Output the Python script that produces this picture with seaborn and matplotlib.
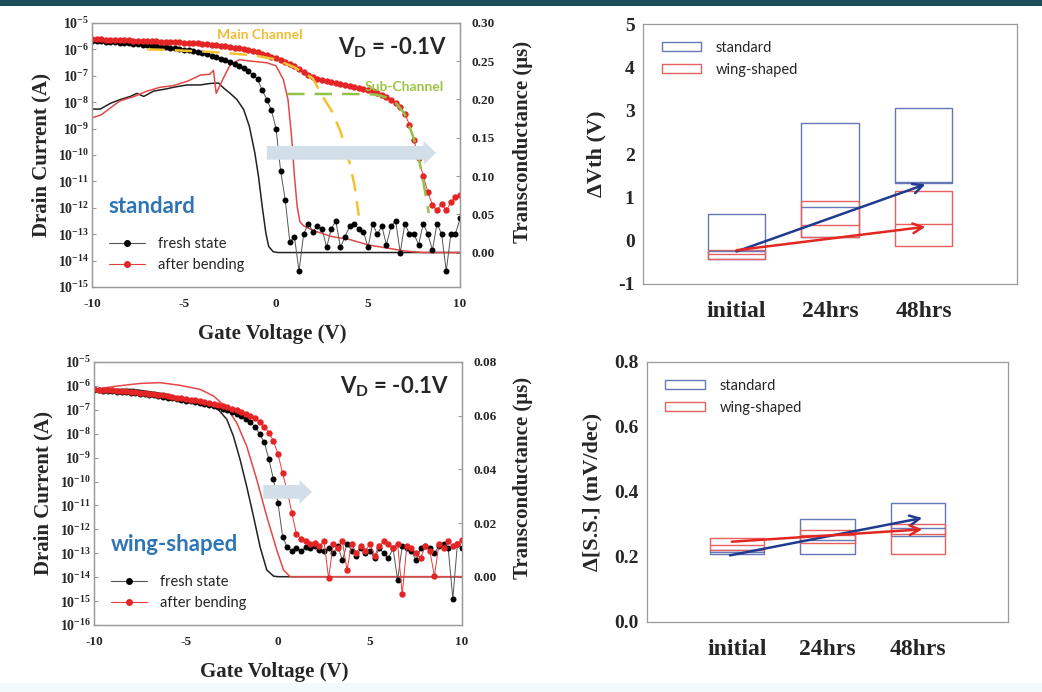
import numpy as np
import pandas as pd
import matplotlib
matplotlib.use("Agg")
import matplotlib.pyplot as plt
from matplotlib.lines import Line2D
from matplotlib.patches import Patch, Rectangle
from matplotlib.ticker import NullLocator
import seaborn as sns

# ---------------------------------------------------
# Data
# ---------------------------------------------------
# gate voltage sweep of the dotted Id curves (0.25 V steps)
vg = np.linspace(-10, 10, 81)

# log10 of drain current (A), standard device
std_fresh_log = [
    -5.69, -5.70, -5.70, -5.71, -5.72, -5.73, -5.74, -5.75, -5.77, -5.78,
    -5.80, -5.82, -5.84, -5.86, -5.88, -5.90, -5.92, -5.94, -5.96, -5.98,
    -6.01, -6.04, -6.07, -6.11, -6.15, -6.19, -6.24, -6.29, -6.35, -6.41,
    -6.48, -6.55, -6.63, -6.72, -6.83, -6.96, -7.13, -7.55, -7.90, -8.30,
    -9.0, -10.6, -11.7, -13.3, -13.1, -14.4, -13.0, -12.6, -12.9, -12.7,
    -12.8, -13.5, -12.8, -12.5, -13.5, -13.1, -12.7, -12.6, -12.8, -12.9,
    -13.5, -12.6, -13.0, -12.7, -13.4, -12.7, -12.5, -13.7, -12.6, -13.0,
    -13.0, -13.4, -12.6, -13.0, -13.6, -12.6, -13.0, -14.4, -13.0, -13.0,
    -12.4,
]
std_bent_log = [
    -5.61, -5.62, -5.62, -5.63, -5.64, -5.64, -5.65, -5.65, -5.66, -5.67,
    -5.67, -5.68, -5.69, -5.69, -5.70, -5.71, -5.71, -5.72, -5.72, -5.73,
    -5.74, -5.75, -5.76, -5.77, -5.79, -5.80, -5.82, -5.84, -5.86, -5.88,
    -5.91, -5.93, -5.95, -5.99, -6.03, -6.07, -6.11, -6.16, -6.21, -6.27,
    -6.33, -6.41, -6.49, -6.56, -6.64, -6.76, -6.87, -6.97, -7.05, -7.12,
    -7.17, -7.21, -7.25, -7.28, -7.31, -7.34, -7.37, -7.41, -7.45, -7.49,
    -7.53, -7.59, -7.65, -7.72, -7.80, -7.90, -8.02, -8.20, -8.45, -8.85,
    -9.45, -10.1, -10.8, -11.4, -11.9, -12.1, -11.85, -12.1, -11.8, -11.6,
    -11.5,
]

# log10 of drain current (A), wing-shaped device
wing_fresh_log = [
    -6.18, -6.19, -6.20, -6.21, -6.22, -6.24, -6.25, -6.27, -6.29, -6.31,
    -6.33, -6.35, -6.37, -6.40, -6.43, -6.46, -6.49, -6.52, -6.55, -6.58,
    -6.62, -6.65, -6.69, -6.73, -6.77, -6.81, -6.85, -6.90, -6.95, -7.01,
    -7.08, -7.16, -7.25, -7.37, -7.52, -7.72, -8.00, -8.35, -9.05, -9.9,
    -10.9, -12.3, -12.75, -12.9, -12.8, -12.9, -12.75, -12.8, -12.7, -12.85,
    -12.9, -12.8, -13.0, -12.7, -13.3, -12.6, -12.9, -13.1, -12.8, -13.0,
    -12.9, -13.2, -12.8, -13.0, -13.2, -12.8, -14.1, -12.7, -12.8, -12.9,
    -13.3, -12.8, -12.7, -12.8, -13.0, -12.7, -12.6, -12.8, -14.9, -12.6,
    -12.8,
]
wing_bent_log = [
    -6.15, -6.16, -6.17, -6.18, -6.19, -6.20, -6.22, -6.23, -6.25, -6.27,
    -6.29, -6.31, -6.33, -6.35, -6.38, -6.40, -6.43, -6.46, -6.49, -6.52,
    -6.55, -6.58, -6.61, -6.65, -6.68, -6.72, -6.76, -6.80, -6.84, -6.89,
    -6.95, -7.01, -7.08, -7.16, -7.25, -7.36, -7.50, -7.70, -7.95, -8.30,
    -8.85, -9.65, -10.4, -11.3, -12.2, -12.4, -12.5, -12.6, -12.55, -12.7,
    -12.5, -14.05, -12.6, -12.8, -12.5, -13.7, -12.6, -13.0, -12.7, -12.9,
    -12.6, -13.1, -12.7, -12.5, -12.6, -12.8, -12.6, -14.7, -12.7, -12.8,
    -13.0, -13.2, -12.7, -12.9, -13.95, -12.6, -12.8, -12.5, -12.7, -12.6,
    -12.45,
]

# transconductance (uS)
std_gm_fresh_x = [-10, -9.55, -9.0, -8.46, -7.92, -7.56, -7.19, -6.65, -5.93, -5.57,
                  -4.84, -4.12, -3.57, -3.12, -2.85, -2.49, -2.13, -1.76, -1.45, -1.15,
                  -0.95, -0.75, -0.55, -0.4, -0.15, 0.1, 10]
std_gm_fresh = [0.1875, 0.1875, 0.195, 0.2, 0.204, 0.208, 0.204, 0.211, 0.214, 0.216,
                0.219, 0.219, 0.221, 0.2215, 0.215, 0.208, 0.2, 0.187, 0.165, 0.13,
                0.099, 0.06, 0.025, 0.008, 0.001, 0.0, 0.0]
std_gm_bent_x = [-10, -9.5, -9.0, -8.5, -7.7, -7.0, -6.3, -5.6, -4.8, -4.1,
                 -3.6, -3.4, -3.25, -2.9, -2.5, -2.0, -1.3, -0.5, 0.0, 0.4,
                 0.65, 0.85, 1.0, 1.15, 1.3, 1.5, 2.0, 3.0, 4.0, 5.0,
                 6.0, 7.0, 8.0, 10.0]
std_gm_bent = [0.176, 0.18, 0.189, 0.198, 0.204, 0.211, 0.216, 0.218, 0.224, 0.232,
               0.233, 0.238, 0.208, 0.226, 0.245, 0.252, 0.25, 0.248, 0.244, 0.226,
               0.2, 0.15, 0.1, 0.06, 0.04, 0.035, 0.029, 0.021, 0.017, 0.01,
               0.006, 0.002, 0.0, 0.0]
wing_gm_fresh_x = [-10, -7.86, -6.05, -4.23, -3.33, -2.78, -2.42, -2.06, -1.7, -1.33,
                   -0.97, -0.61, -0.24, 0.0, 10]
wing_gm_fresh = [0.0698, 0.0698, 0.068, 0.0648, 0.063, 0.0586, 0.0523, 0.0436, 0.0336, 0.0224,
                 0.011, 0.0025, 0.0002, 0.0, 0.0]
wing_gm_bent_x = [-10, -8.77, -7.5, -6.41, -5.32, -4.23, -3.5, -2.78, -2.24, -1.7,
                  -1.15, -0.61, -0.07, 0.3, 0.66, 10]
wing_gm_bent = [0.0698, 0.071, 0.072, 0.0723, 0.0713, 0.0698, 0.0673, 0.0629, 0.0573, 0.0486,
                0.0361, 0.0224, 0.01, 0.0025, 0.0, 0.0]

# main / sub channel decomposition of the bent standard device (log10 A)
main_x = [-7, -6, -5, -4, -3, -2, -1, 0, 1, 1.5, 2, 2.5, 3, 3.5, 4, 4.25, 4.5]
main_log = [-6.0, -6.02, -6.05, -6.08, -6.12, -6.18, -6.25, -6.38, -6.68, -6.88,
            -7.1, -7.75, -8.3, -9.1, -10.3, -11.1, -12.3]
sub_x = [0.6, 2, 3, 4, 5, 5.5, 6, 6.5, 7, 7.5, 7.75, 8.0, 8.3]
sub_log = [-7.69, -7.69, -7.69, -7.69, -7.70, -7.72, -7.82, -8.02, -8.45, -9.4,
           -10.1, -11.0, -12.2]

# threshold shift arrows (start / end in data units)
std_shift = [(-0.5, 1.2e-10), (8.7, 1.2e-10)]
wing_shift = [(-0.8, 3.7e-11), (1.85, 3.7e-11)]

# box statistics
periods = ["initial", "24hrs", "48hrs"]
devices = ["standard", "wing-shaped"]
dvth_std_q1 = [-0.42, 0.09, 1.33]
dvth_std_med = [-0.25, 0.78, 1.35]
dvth_std_q3 = [0.62, 2.71, 3.06]
dvth_wing_q1 = [-0.42, 0.08, -0.12]
dvth_wing_med = [-0.30, 0.36, 0.38]
dvth_wing_q3 = [-0.22, 0.91, 1.15]

ss_std_q1 = [0.208, 0.21, 0.265]
ss_std_med = [0.215, 0.252, 0.29]
ss_std_q3 = [0.222, 0.317, 0.365]
ss_wing_q1 = [0.222, 0.242, 0.209]
ss_wing_med = [0.237, 0.268, 0.27]
ss_wing_q3 = [0.258, 0.283, 0.30]

# trend arrows on the box panels
dvth_trend = {"standard": [(0.0, -0.25), (2.02, 1.3)],
              "wing-shaped": [(0.0, -0.22), (2.02, 0.32)]}
ss_trend = {"standard": [(-0.08, 0.205), (2.05, 0.32)],
            "wing-shaped": [(-0.06, 0.247), (2.05, 0.285)]}

# -----------------------------
# Style
# -----------------------------
sns.set_style("white")
plt.rcParams["font.family"] = ["Liberation Serif", "DejaVu Serif"]
plt.rcParams["font.weight"] = "bold"
plt.rcParams["axes.labelweight"] = "bold"
plt.rcParams["axes.unicode_minus"] = False
plt.rcParams["mathtext.fontset"] = "custom"
plt.rcParams["mathtext.rm"] = "Liberation Serif:bold"
plt.rcParams["mathtext.bf"] = "Liberation Serif:bold"
plt.rcParams["mathtext.it"] = "Liberation Serif:bold"
plt.rcParams["mathtext.sf"] = "Lato:bold"

SANS = "Lato"
BLUE_TXT = "#2e75b6"
SPINE = "#9a9a9a"
BOX_COLORS = {"standard": "#6577b5", "wing-shaped": "#e8605e"}
TREND_COLORS = {"standard": "#1f3b8f", "wing-shaped": "#e3261f"}

fig = plt.figure(figsize=(10.42, 6.92), dpi=100)
fig.add_artist(Rectangle((0, 1 - 6 / 692), 1, 6 / 692, transform=fig.transFigure,
                         color="#1d4c5b", lw=0))
fig.add_artist(Rectangle((0, 0), 1, 9 / 692, transform=fig.transFigure,
                         color="#f3fafc", lw=0))


def style_spines(ax):
    for s in ax.spines.values():
        s.set_color(SPINE)
        s.set_linewidth(0.9)


def iv_panel(rect, fresh_log, bent_log, gmf_x, gmf, gmb_x, gmb, ylo, gm_lim, gm_ticks,
             tag, shift, label_y, right_x):
    ax = fig.add_axes(rect)
    ax2 = ax.twinx()
    ax.set_zorder(ax2.get_zorder() + 1)
    ax.patch.set_visible(False)

    # transconductance (thin lines, right axis)
    sns.lineplot(x=gmf_x, y=gmf, ax=ax2, color="#222222", lw=1.1, errorbar=None)
    sns.lineplot(x=gmb_x, y=gmb, ax=ax2, color="#e34848", lw=1.1, errorbar=None)

    # drain current (dotted, left log axis)
    sns.lineplot(x=vg, y=10.0 ** np.array(fresh_log), ax=ax, color="#555555", lw=0.7,
                 marker="o", markersize=4.3, markerfacecolor="black",
                 markeredgecolor="black", markeredgewidth=0, errorbar=None)
    sns.lineplot(x=vg, y=10.0 ** np.array(bent_log), ax=ax, color="#e53a3a", lw=0.7,
                 marker="o", markersize=4.6, markerfacecolor="#e52525",
                 markeredgecolor="#e52525", markeredgewidth=0, errorbar=None)

    ax.annotate("", xy=shift[1], xytext=shift[0],
                arrowprops=dict(arrowstyle="simple,head_width=1.9,head_length=1.0,tail_width=1.1",
                                color="#d3dfe8", lw=0, mutation_scale=9,
                                shrinkA=0, shrinkB=0))

    ax.set_yscale("log")
    ax.set_xlim(-10, 10)
    ax.set_ylim(10.0 ** ylo, 1e-5)
    exps = list(range(-5, ylo - 1, -1))
    ax.set_yticks([10.0 ** e for e in exps])
    ax.set_yticklabels([f"$10^{{{e}}}$" for e in exps])
    ax.yaxis.set_minor_locator(NullLocator())
    ax.set_xticks([-10, -5, 0, 5, 10])
    ax.tick_params(direction="in", length=3, color=SPINE, labelsize=9.5, pad=8)
    ax.tick_params(axis="y", labelsize=10, pad=2)

    ax2.set_ylim(*gm_lim)
    ax2.set_yticks(gm_ticks)
    ax2.set_yticklabels([f"{t:.2f}" for t in gm_ticks])
    ax2.tick_params(direction="in", length=3, color=SPINE, labelsize=9.5, pad=8)

    ax.set_xlabel("Gate Voltage (V)", fontsize=15)
    ax.xaxis.set_label_coords(0.49, -0.14)
    ax.set_ylabel("Drain Current (A)", fontsize=15)
    ax.yaxis.set_label_coords(-0.11, 0.5)
    ax2.set_ylabel("Transconductance (\u03bcs)", fontsize=15)
    ax2.yaxis.set_label_coords(right_x, label_y)

    style_spines(ax)
    style_spines(ax2)

    ax.text(0.965, 0.905, r"$\mathsf{V_D}$ = -0.1V", transform=ax.transAxes, ha="right",
            va="center", fontsize=16, fontfamily=SANS, fontweight="bold")
    ax.text(0.045, 0.305, tag, transform=ax.transAxes, ha="left", va="center",
            fontsize=16, fontfamily=SANS, fontweight="bold", color=BLUE_TXT)

    handles = [
        Line2D([], [], color="#555555", lw=0.8, marker="o", markersize=5,
               markerfacecolor="black", markeredgewidth=0),
        Line2D([], [], color="#e53a3a", lw=0.8, marker="o", markersize=5,
               markerfacecolor="#e52525", markeredgewidth=0),
    ]
    ax.legend(handles, ["fresh state", "after bending"], loc="lower left",
              bbox_to_anchor=(0.03, 0.035), frameon=False, handlelength=2.5,
              handletextpad=0.9, labelspacing=0.45, borderaxespad=0,
              prop={"family": SANS, "size": 10.5, "weight": "normal"})
    return ax, ax2


# -----------------------------
# Left column: transfer curves
# -----------------------------
ax_tl, ax_tl2 = iv_panel([0.0883, 0.5853, 0.3532, 0.3815], std_fresh_log, std_bent_log,
                         std_gm_fresh_x, std_gm_fresh, std_gm_bent_x, std_gm_bent,
                         -15, (-0.045, 0.30), [0.0, 0.05, 0.10, 0.15, 0.20, 0.25, 0.30],
                         "standard", std_shift, 0.55, 1.145)
sns.lineplot(x=main_x, y=10.0 ** np.array(main_log), ax=ax_tl, color="#f2c230", lw=1.8,
             linestyle=(0, (7, 4)), errorbar=None)
sns.lineplot(x=sub_x, y=10.0 ** np.array(sub_log), ax=ax_tl, color="#93c247", lw=1.8,
             linestyle=(0, (7, 4)), errorbar=None)
ax_tl.text(0.34, 0.955, "Main Channel", transform=ax_tl.transAxes, ha="left", va="center",
           fontsize=10, fontfamily=SANS, fontweight="bold", color="#eebb33")
ax_tl.text(0.742, 0.758, "Sub-Channel", transform=ax_tl.transAxes, ha="left", va="center",
           fontsize=10, fontfamily=SANS, fontweight="bold", color="#9cc644")

ax_bl, ax_bl2 = iv_panel([0.0902, 0.0968, 0.3532, 0.3801], wing_fresh_log, wing_bent_log,
                         wing_gm_fresh_x, wing_gm_fresh, wing_gm_bent_x, wing_gm_bent,
                         -16, (-0.018, 0.08), [0.0, 0.02, 0.04, 0.06, 0.08],
                         "wing-shaped", wing_shift, 0.56, 1.139)


# -----------------------------
# Right column: box summaries
# -----------------------------
def box_frame(q1s, meds, q3s):
    rows = []
    for dev in devices:
        for i, p in enumerate(periods):
            q1, md, q3 = q1s[dev][i], meds[dev][i], q3s[dev][i]
            for v in (q1, q1, md, q3, q3):
                rows.append({"period": p, "device": dev, "value": v})
    return pd.DataFrame(rows)


def box_panel(rect, df, ylim, yticks, fmt, ylabel, trend, width, label_x):
    ax = fig.add_axes(rect)
    sns.boxplot(data=df, x="period", y="value", hue="device", order=periods,
                hue_order=devices, palette=BOX_COLORS, dodge=False, fill=False,
                width=width, whis=0, showcaps=False, linewidth=1.0, legend=False,
                flierprops={"marker": ""}, ax=ax)
    for dev in devices:
        (x0, y0), (x1, y1) = trend[dev]
        ax.annotate("", xy=(x1, y1), xytext=(x0, y0),
                    arrowprops=dict(arrowstyle="->,head_length=0.7,head_width=0.35",
                                    color=TREND_COLORS[dev], lw=1.8,
                                    shrinkA=0, shrinkB=0))
    ax.set_xlim(-1, 3)
    ax.set_ylim(*ylim)
    ax.set_yticks(yticks)
    ax.set_yticklabels([fmt.format(t) for t in yticks])
    ax.tick_params(axis="y", direction="in", length=3, color=SPINE, labelsize=14, pad=6)
    ax.tick_params(axis="x", length=0, labelsize=17, pad=12)
    ax.set_xlabel("")
    ax.set_ylabel(ylabel, fontsize=16)
    ax.yaxis.set_label_coords(label_x, 0.5)
    style_spines(ax)
    handles = [Patch(facecolor="none", edgecolor=BOX_COLORS[d], lw=1.0) for d in devices]
    ax.legend(handles, devices, loc="upper left", bbox_to_anchor=(0.035, 0.958),
              frameon=False, handlelength=2.7, handleheight=0.55, handletextpad=1.0,
              labelspacing=0.55, borderaxespad=0,
              prop={"family": SANS, "size": 10.5, "weight": "normal"})
    return ax


dvth_df = box_frame({"standard": dvth_std_q1, "wing-shaped": dvth_wing_q1},
                    {"standard": dvth_std_med, "wing-shaped": dvth_wing_med},
                    {"standard": dvth_std_q3, "wing-shaped": dvth_wing_q3})
ss_df = box_frame({"standard": ss_std_q1, "wing-shaped": ss_wing_q1},
                  {"standard": ss_std_med, "wing-shaped": ss_wing_med},
                  {"standard": ss_std_q3, "wing-shaped": ss_wing_q3})

box_panel([0.6171, 0.5896, 0.3589, 0.3757], dvth_df, (-1, 5), [-1, 0, 1, 2, 3, 4, 5],
          "{:d}", "\u0394Vth (V)", dvth_trend, 0.61, -0.097)
box_panel([0.6209, 0.1012, 0.3464, 0.3757], ss_df, (0.0, 0.8), [0.0, 0.2, 0.4, 0.6, 0.8],
          "{:.1f}", "\u0394[S.S.] (mV/dec)", ss_trend, 0.60, -0.122)

fig.savefig("out.png", dpi=100)
